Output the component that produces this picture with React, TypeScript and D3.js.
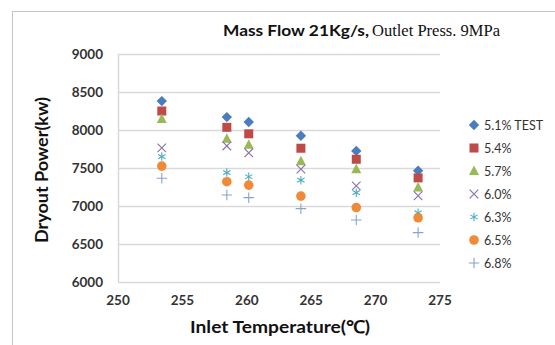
import * as d3 from 'd3';
import React from 'react';

// inlet temperatures of the test points
const temps = [253.4, 258.45, 260.15, 264.2, 268.5, 273.3];

const seriesNames = ['5.1% TEST', '5.4%', '5.7%', '6.0%', '6.3%', '6.5%', '6.8%'];

const s51 = [8380, 8170, 8105, 7925, 7725, 7465];
const s54 = [8250, 8035, 7950, 7760, 7615, 7370];
const s57 = [8145, 7885, 7805, 7590, 7485, 7245];
const s60 = [7765, 7790, 7700, 7485, 7265, 7135];
const s63 = [7650, 7440, 7385, 7340, 7175, 6910];
const s65 = [7525, 7320, 7275, 7130, 6980, 6845];
const s68 = [7365, 7145, 7110, 6965, 6815, 6650];

const seriesValues = [s51, s54, s57, s60, s63, s65, s68];

const xTicks = [250, 255, 260, 265, 270, 275];
const yTicks = [6000, 6500, 7000, 7500, 8000, 8500, 9000];

const colors = ['#4a7cc0', '#be4b48', '#98b954', '#8a70ab', '#4bacc6', '#f08a36', '#86a3d6'];

type Kind = 'diamond' | 'square' | 'triangle' | 'times' | 'asterisk' | 'circle' | 'plus';
const kinds: Kind[] = ['diamond', 'square', 'triangle', 'times', 'asterisk', 'circle', 'plus'];

function Marker({ kind, x, y, color }: { kind: Kind; x: number; y: number; color: string }) {
  const t = `translate(${x},${y})`;
  if (kind === 'diamond') {
    return <path transform={t} d='M0,-5.2 L5.2,0 L0,5.2 L-5.2,0 Z' fill={color} />;
  }
  if (kind === 'square') {
    return <rect x={x - 4.5} y={y - 4.5} width={9} height={9} fill={color} />;
  }
  if (kind === 'triangle') {
    return <path transform={t} d='M0,-5.5 L5,4 L-5,4 Z' fill={color} />;
  }
  if (kind === 'circle') {
    return <circle cx={x} cy={y} r={4.8} fill={color} />;
  }
  const sym =
    kind === 'times' ? d3.symbolTimes : kind === 'asterisk' ? d3.symbolAsterisk : d3.symbolPlus;
  const d = d3.symbol().type(sym).size(kind === 'plus' ? 38 : 50)() ?? '';
  return <path transform={t} d={d} fill='none' stroke={color} strokeWidth={1.1} />;
}

export default function App() {
  const left = 118;
  const right = 440;
  const top = 54;
  const bottom = 282;

  const xScale = d3.scaleLinear().domain([250, 275]).range([left, right]);
  const yScale = d3.scaleLinear().domain([6000, 9000]).range([bottom, top]);

  const font = 'Lato, "Open Sans", sans-serif';

  const points = [];
  for (let s = 0; s < seriesValues.length; s++) {
    for (let i = 0; i < temps.length; i++) {
      points.push(
        <Marker
          key={`${s}-${i}`}
          kind={kinds[s]}
          x={xScale(temps[i])}
          y={yScale(seriesValues[s][i])}
          color={colors[s]}
        />
      );
    }
  }

  return (
    <svg
      width={555}
      height={345}
      style={{ position: 'absolute', left: 0, top: 0, background: 'white' }}>
      <rect x={12.5} y={11.5} width={560} height={345} fill='white' stroke='#c4c4c4' />

      <text
        x={223}
        y={36}
        fontFamily={font}
        fontWeight='bold'
        fontSize={14.5}
        fill='#111'
        textLength={146}
        lengthAdjust='spacingAndGlyphs'>
        Mass Flow 21Kg/s,
      </text>
      <text
        x={372}
        y={36}
        fontFamily='"Liberation Serif", serif'
        fontSize={16.5}
        fill='#111'
        textLength={128}
        lengthAdjust='spacingAndGlyphs'>
        Outlet Press. 9MPa
      </text>

      <g>
        {yTicks.map((v) => (
          <line
            key={v}
            x1={left}
            x2={right}
            y1={Math.round(yScale(v)) + 0.5}
            y2={Math.round(yScale(v)) + 0.5}
            stroke='#d9d9d9'
            strokeWidth={1.5}
          />
        ))}
        <line x1={left + 0.5} x2={left + 0.5} y1={top} y2={bottom} stroke='#d9d9d9' strokeWidth={1.5} />
      </g>

      <g fontFamily={font} fontWeight='bold' fontSize={13.5} fill='#333'>
        {yTicks.map((v) => (
          <text key={v} x={103} y={yScale(v) + 5} textAnchor='end'>
            {v}
          </text>
        ))}
        {xTicks.map((v) => (
          <text key={v} x={xScale(v)} y={305} textAnchor='middle'>
            {v}
          </text>
        ))}
      </g>

      <text
        x={190}
        y={333}
        fontFamily={font}
        fontWeight='bold'
        fontSize={17.5}
        fill='#111'
        textLength={180}
        lengthAdjust='spacingAndGlyphs'>
        Inlet Temperature(℃)
      </text>
      <text
        transform='translate(48,243) rotate(-90)'
        fontFamily={font}
        fontWeight='bold'
        fontSize={16.5}
        fill='#111'
        textLength={146}
        lengthAdjust='spacingAndGlyphs'>
        Dryout Power(kw)
      </text>

      <g>{points}</g>

      <g fontFamily={font} fontSize={12.5} fill='#333'>
        {seriesNames.map((name, s) => {
          const y = 125 + s * 23;
          return (
            <g key={name}>
              <Marker kind={kinds[s]} x={474} y={y} color={colors[s]} />
              <text x={484} y={y + 4.5}>
                {name}
              </text>
            </g>
          );
        })}
      </g>
    </svg>
  );
}
